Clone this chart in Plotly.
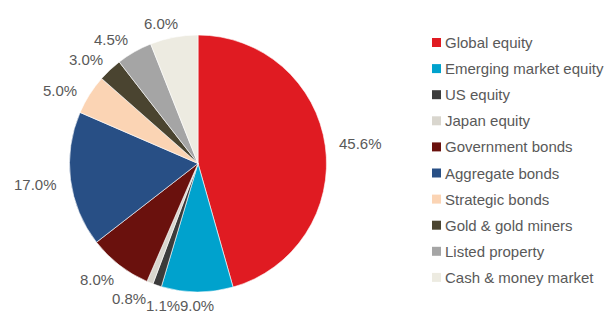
import math
import plotly.graph_objects as go

# ---- data ----
categories = ["Global equity", "Emerging market equity", "US equity", "Japan equity",
              "Government bonds", "Aggregate bonds", "Strategic bonds",
              "Gold & gold miners", "Listed property", "Cash & money market"]
weights = [45.6, 9.0, 1.1, 0.8, 8.0, 17.0, 5.0, 3.0, 4.5, 6.0]
colors = ["#E01B22", "#00A2CD", "#3B3B3B", "#D9D6CE", "#6A110D",
          "#284F85", "#FBD4B4", "#4A4430", "#A5A5A5", "#EDEBE1"]

W, H = 616, 315
CX, CY, R = 198.0, 163.5, 128.5
RX, RY = 164.0, 142.5
TEXT = "#595959"
FONT = "Liberation Sans, Arial, sans-serif"
FS = 15

fig = go.Figure(go.Pie(
    labels=categories, values=weights, sort=False, direction="clockwise",
    rotation=0, marker=dict(colors=colors, line=dict(color="white", width=0.6)),
    textinfo="none", hoverinfo="label+percent", showlegend=False,
    domain=dict(x=[(CX - R) / W, (CX + R) / W], y=[1 - (CY + R) / H, 1 - (CY - R) / H]),
))

# data labels outside the pie, positions derived from slice mid-angles
total = sum(weights)
cum = 0.0
pos = []
for v in weights:
    mid = (cum + v / 2) / total * 2 * math.pi
    cum += v
    s, c = math.sin(mid), math.cos(mid)
    txt = f"{v:.1f}%"
    ndig = sum(ch.isdigit() for ch in txt)
    w = FS * (0.556 * ndig + 0.278 + 0.889)
    y = CY - c * RY
    x = CX + s * RX
    if s < -0.2 and c < 0.6:
        y += 3
    if c > 0.8 and s < 0:
        x -= 6
    pos.append([x, y, w, txt])

# simple collision handling: a label crowded by the next one moves next to the previous one,
# and the next one is kept clear of it
for i in range(1, len(pos) - 1):
    a, b = pos[i], pos[i + 1]
    if abs(a[0] - b[0]) < (a[2] + b[2]) / 2 - 3 and abs(a[1] - b[1]) < 11:
        p = pos[i - 1]
        a[0] = p[0] - p[2] / 2 - a[2] / 2
        a[1] = p[1]
        b[0] = min(b[0], a[0] - a[2] / 2 - b[2] / 2)

for x, y, w, txt in pos:
    fig.add_annotation(x=x / W, y=1 - y / H, xref="paper", yref="paper",
                       text=txt, showarrow=False, xanchor="center", yanchor="middle",
                       font=dict(size=FS, color=TEXT, family=FONT))

# legend (drawn to match the reference spacing)
LX, LY0, LDY, MS = 432, 42.5, 26.1, 9
for i, (name, col) in enumerate(zip(categories, colors)):
    yc = LY0 + i * LDY
    fig.add_shape(type="rect", xref="paper", yref="paper",
                  x0=LX / W, x1=(LX + MS) / W,
                  y0=1 - (yc + MS / 2) / H, y1=1 - (yc - MS / 2) / H,
                  fillcolor=col, line=dict(width=0))
    fig.add_annotation(x=(LX + MS + 2) / W, y=1 - yc / H, xref="paper", yref="paper",
                       text=name, showarrow=False, xanchor="left", yanchor="middle",
                       font=dict(size=FS, color=TEXT, family=FONT))

fig.update_layout(
    width=W, height=H, margin=dict(l=0, r=0, t=0, b=0),
    paper_bgcolor="white", plot_bgcolor="white",
    font=dict(family=FONT, size=FS, color=TEXT),
    showlegend=False,
)

fig.write_html("out.html", config={"displayModeBar": False},
               post_script="document.body.style.margin='0px';")
